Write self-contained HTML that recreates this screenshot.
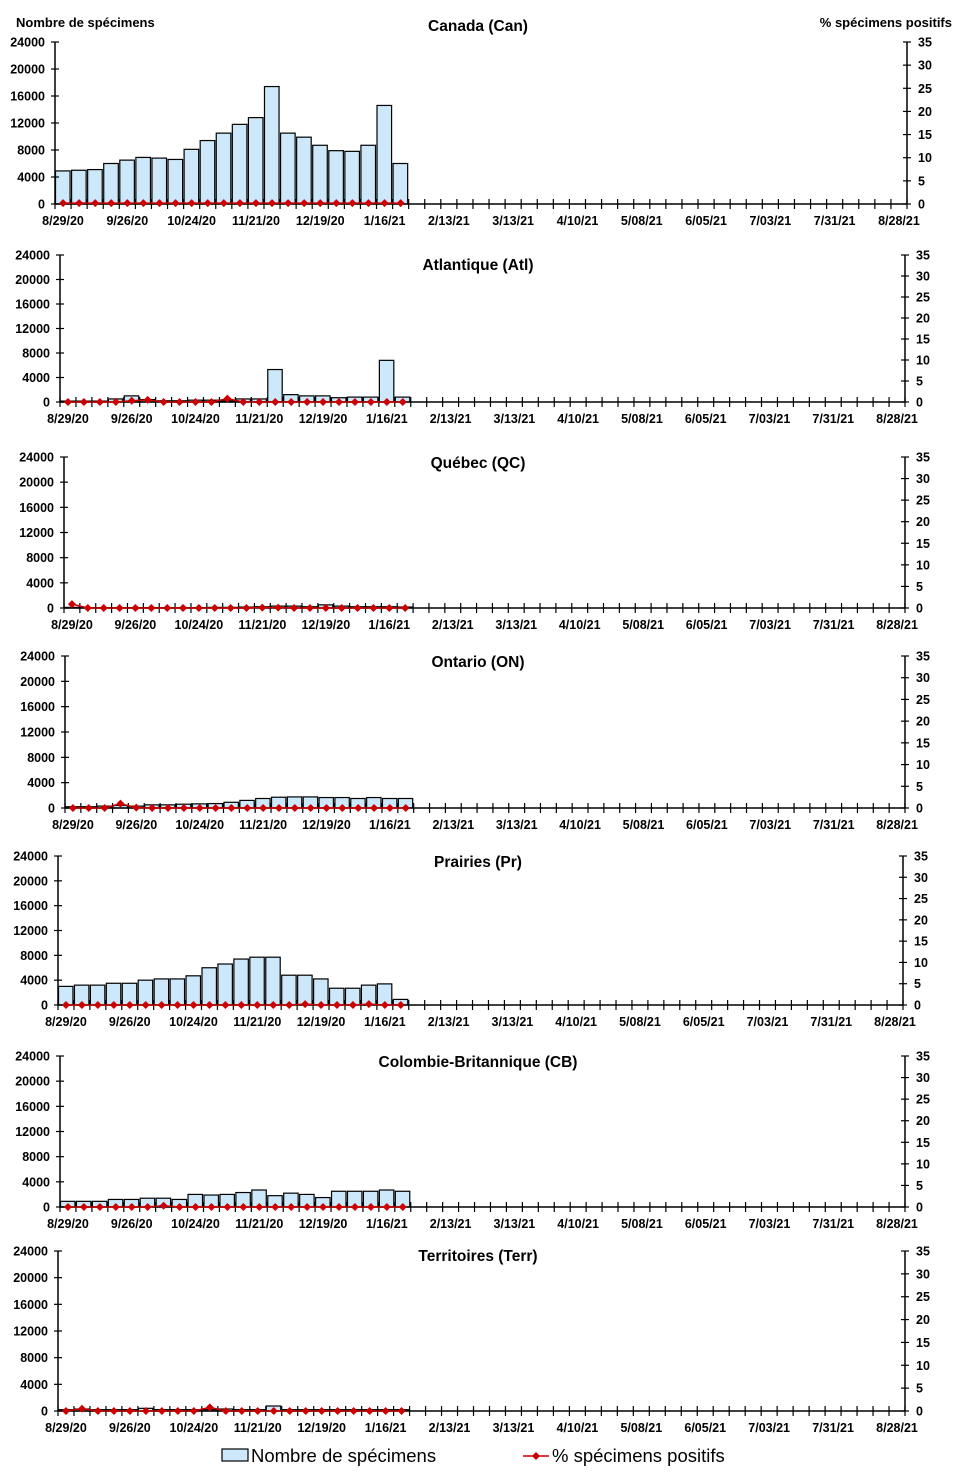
<!DOCTYPE html>
<html><head><meta charset="utf-8"><style>
body{margin:0;background:#fff;}
svg text{font-family:"Liberation Sans",Arial,sans-serif;}
</style></head><body>
<svg id="chart" width="958" height="1476" viewBox="0 0 958 1476" xmlns="http://www.w3.org/2000/svg"></svg>
<script>
const weekLabels = ["8/29/20","9/26/20","10/24/20","11/21/20","12/19/20","1/16/21","2/13/21","3/13/21","4/10/21","5/08/21","6/05/21","7/03/21","7/31/21","8/28/21"];
const leftTicks = [0,4000,8000,12000,16000,20000,24000];
const rightTicks = [0,5,10,15,20,25,30,35];
const regionNames = ["Canada (Can)","Atlantique (Atl)","Québec (QC)","Ontario (ON)","Prairies (Pr)","Colombie-Britannique (CB)","Territoires (Terr)"];
const canCounts = [4900,5000,5100,6000,6500,6900,6800,6600,8100,9400,10500,11800,12800,17400,10500,9900,8700,7900,7800,8700,14600,6000];
const canPct = [0.2,0.2,0.2,0.2,0.2,0.2,0.2,0.2,0.2,0.2,0.2,0.2,0.2,0.2,0.2,0.2,0.2,0.2,0.2,0.2,0.2,0.2];
const atlCounts = [150,150,150,500,1000,400,200,200,300,300,200,500,500,5300,1200,1000,1000,700,800,800,6800,800];
const atlPct = [0,0,0,0,0.3,0.5,0,0,0,0,0.8,0,0,0,0,0,0,0,0,0,0,0];
const qcCounts = [100,50,50,50,50,50,50,50,50,100,100,150,200,300,300,200,500,300,200,200,200,150];
const qcPct = [0.9,0,0,0,0,0,0,0,0,0,0,0,0.1,0.1,0,0,0,0,0,0,0,0];
const onCounts = [200,200,300,400,300,500,500,600,650,700,900,1200,1500,1700,1750,1750,1650,1650,1500,1650,1500,1500];
const onPct = [0,0,0,1.0,0.1,0,0,0,0,0,0,0,0,0,0,0,0,0,0,0,0,0];
const prCounts = [3000,3200,3200,3500,3500,4000,4200,4200,4700,6000,6600,7400,7700,7700,4800,4800,4200,2700,2700,3200,3400,900];
const prPct = [0,0,0,0,0,0,0,0,0,0,0,0,0,0,0,0.2,0,0,0,0.2,0,0];
const cbCounts = [900,900,900,1200,1200,1400,1400,1200,2000,1900,2000,2300,2700,1800,2200,2000,1500,2500,2500,2500,2700,2500];
const cbPct = [0,0,0,0,0,0,0.3,0,0,0,0,0,0,0,0,0,0,0,0,0,0,0];
const terrCounts = [200,300,200,200,200,400,200,200,200,200,300,200,200,750,200,200,200,200,200,200,200,200];
const terrPct = [0,0.5,0,0,0,0,0,0,0,0.8,0,0,0,0,0,0,0,0,0,0,0,0];

const seriesCounts=[canCounts,atlCounts,qcCounts,onCounts,prCounts,cbCounts,terrCounts];
const seriesPct=[canPct,atlPct,qcPct,onPct,prPct,cbPct,terrPct];
const geo=[
 {l:55,r:907,t:42,b:204,ty:25},
 {l:60,r:905,t:255,b:402,ty:264},
 {l:64,r:905,t:457,b:608,ty:462},
 {l:65,r:905,t:656,b:808,ty:661},
 {l:58,r:903,t:856,b:1005,ty:861},
 {l:60,r:905,t:1056,b:1207,ty:1061},
 {l:58,r:905,t:1251,b:1411,ty:1255}
];
const NS="http://www.w3.org/2000/svg";
const svg=document.getElementById('chart');
function mk(tag,attrs,parent,txt){const e=document.createElementNS(NS,tag);for(const k in attrs)e.setAttribute(k,attrs[k]);if(txt!==undefined)e.textContent=txt;(parent||svg).appendChild(e);return e;}
const slots=53;
geo.forEach((g,pi)=>{
  const grp=mk('g',{});
  
  
  const sw=(g.r-g.l)/slots;
  const x=i=>g.l+sw*i;
  const yL=v=>g.b-(v/24000)*(g.b-g.t);
  const yR=v=>g.b-(v/35)*(g.b-g.t);
  const t=mk('text',{x:478,y:g.ty+6,'text-anchor':'middle','font-size':15.5,'font-weight':'bold'},grp,regionNames[pi]);
  
  
  seriesCounts[pi].forEach((v,i)=>{
    const r=mk('rect',{x:x(i)+0.5,y:yL(v),width:sw-1.5,height:g.b-yL(v),fill:'#cce8fa',stroke:'#000','stroke-width':1.2},grp);
    
    
  });
  mk('line',{x1:g.l,y1:g.t,x2:g.l,y2:g.b,stroke:'#000','stroke-width':1.5},grp);
  mk('line',{x1:g.r,y1:g.t,x2:g.r,y2:g.b,stroke:'#000','stroke-width':1.5},grp);
  mk('line',{x1:g.l,y1:g.b,x2:g.r,y2:g.b,stroke:'#000','stroke-width':1.5},grp);
  leftTicks.forEach(v=>{
    mk('line',{x1:g.l-4,y1:yL(v),x2:g.l+4,y2:yL(v),stroke:'#000','stroke-width':1.2},grp);
    const tl=mk('text',{x:g.l-10,y:yL(v)+4.5,'text-anchor':'end','font-size':12.5,'font-weight':'bold'},grp,String(v));
    
    
  });
  rightTicks.forEach(v=>{
    mk('line',{x1:g.r-4,y1:yR(v),x2:g.r+4,y2:yR(v),stroke:'#000','stroke-width':1.2},grp);
    const tr=mk('text',{x:g.r+11,y:yR(v)+4.5,'text-anchor':'start','font-size':12.5,'font-weight':'bold'},grp,String(v));
    
    
  });
  for(let i=0;i<=slots;i++) mk('line',{x1:x(i),y1:g.b-5,x2:x(i),y2:g.b+5,stroke:'#000','stroke-width':1.2},grp);
  weekLabels.forEach((lab,k)=>{
    const xl=mk('text',{x:x(k*4+0.5),y:g.b+21,'text-anchor':'middle','font-size':12.5,'font-weight':'bold'},grp,lab);
    
    
  });
  const pts=seriesPct[pi].map((v,i)=>(x(i+0.5))+','+yR(v)).join(' ');
  const pl=mk('polyline',{points:pts,fill:'none',stroke:'#cc0000','stroke-width':1.5},grp);
  
  
  seriesPct[pi].forEach((v,i)=>{
    const cx=x(i+0.5),cy=yR(v);
    const d=mk('polygon',{points:`${cx},${cy-4} ${cx+4},${cy} ${cx},${cy+4} ${cx-4},${cy}`,fill:'#cc0000'},grp);
    
    
  });
});
const a1=mk('text',{x:16,y:27,'font-size':13,'font-weight':'bold'},svg,'Nombre de spécimens');


const a2=mk('text',{x:952,y:27,'text-anchor':'end','font-size':13,'font-weight':'bold'},svg,'% spécimens positifs');


const lg=mk('g',{});


mk('rect',{x:222,y:1449,width:26,height:12,fill:'#cce8fa',stroke:'#000','stroke-width':1.2},lg);
const l1=mk('text',{x:251,y:1462,'font-size':18.5},lg,'Nombre de spécimens');


mk('line',{x1:523,y1:1456,x2:549,y2:1456,stroke:'#cc0000','stroke-width':1.5},lg);
mk('polygon',{points:'536,1452 540,1456 536,1460 532,1456',fill:'#cc0000'},lg);
const l2=mk('text',{x:552,y:1462,'font-size':18.5},lg,'% spécimens positifs');


</script>
</body></html>
